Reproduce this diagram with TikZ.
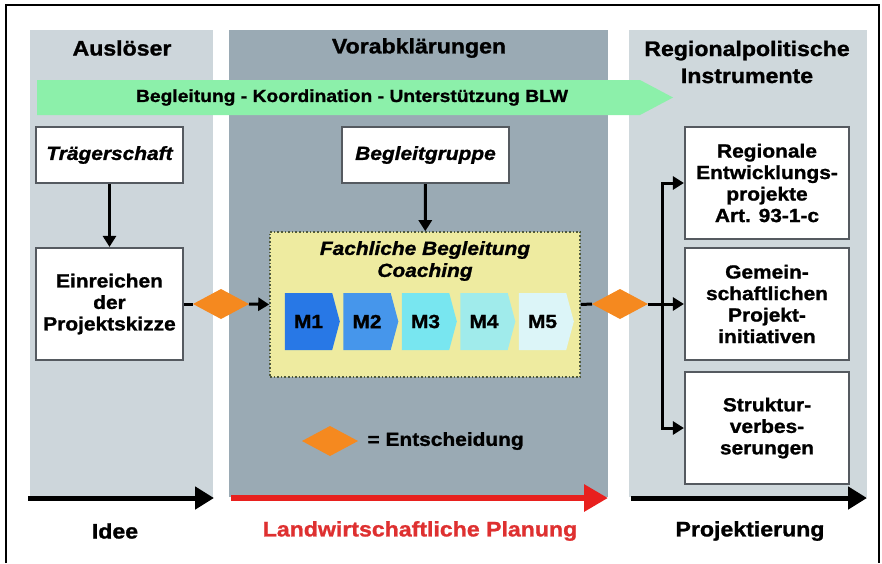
\documentclass[tikz,border=0pt]{standalone}
\usepackage{fontspec}
\setmainfont{Liberation Sans}[FakeStretch=1.1, BoldFeatures={FakeBold=1.2}, BoldItalicFeatures={FakeBold=1.2}]
\usetikzlibrary{arrows.meta,shapes.geometric,shapes.symbols}
\definecolor{panelL}{RGB}{205,214,219}
\definecolor{panelM}{RGB}{154,170,180}
\definecolor{panelR}{RGB}{207,216,220}
\definecolor{greenarr}{RGB}{140,240,170}
\definecolor{boxline}{RGB}{85,90,96}
\definecolor{yellowbox}{RGB}{238,235,160}
\definecolor{yellowline}{RGB}{80,90,60}
\definecolor{decis}{RGB}{245,137,31}
\definecolor{redarr}{RGB}{232,32,30}
\definecolor{redtext}{RGB}{222,48,48}
\definecolor{mA}{RGB}{40,120,230}
\definecolor{mB}{RGB}{70,150,235}
\definecolor{mC}{RGB}{120,230,240}
\definecolor{mD}{RGB}{160,235,235}
\definecolor{mE}{RGB}{220,245,248}
\begin{document}
\begin{tikzpicture}[x=1pt,y=-1pt,
  bodyfont/.style={font=\fontsize{19}{21.5}\selectfont\bfseries},
  titlefont/.style={font=\fontsize{21}{27}\selectfont\bfseries},
  whitebox/.style={draw=boxline, line width=2.2pt, fill=white, inner sep=0pt, align=center, bodyfont},
  decision/.style={diamond, fill=decis, draw=none, inner sep=0pt, outer sep=0pt, minimum width=56pt, minimum height=30pt},
  conn/.style={draw=black, line width=3pt},
  connarrow/.style={conn, -{Triangle[length=11pt,width=13pt]}},
  mstep/.style={signal, signal to=east, signal pointer angle=150, draw=none, inner sep=0pt, minimum width=55pt, minimum height=57pt, bodyfont},
  timeline/.style={line width=5pt, -{Triangle[length=19pt,width=22pt]}},
]
\useasboundingbox (0,0) rectangle (882,563);
% outer frame
\draw[line width=2pt] (6,563) -- (6,5) -- (879,5) -- (879,563);
% panels
\fill[panelL] (30,30) rectangle (213,497);
\fill[panelM] (229,30) rectangle (608,497);
\fill[panelR] (629,30) rectangle (867,497);
% panel titles
\node[titlefont] (tL) at (122,48) {Auslöser};
\node[titlefont] (tM) at (419,48) {Vorabklärungen};
\node[titlefont, align=center] (tR) at (747,62) {Regionalpolitische\\Instrumente};
% green arrow
\fill[greenarr] (37,80) -- (640,80) -- (673,97.5) -- (640,115) -- (37,115) -- cycle;
\node[font=\fontsize{17.5}{20}\selectfont\bfseries] (gtext) at (352,97.5) {Begleitung - Koordination - Unterstützung BLW};
% boxes
\node[whitebox, minimum width=147pt, minimum height=56pt, font=\fontsize{19}{21.5}\selectfont\bfseries\itshape] (traeger) at (109.5,155) {Trägerschaft};
\node[whitebox, minimum width=147pt, minimum height=112pt] (einreichen) at (109.5,304) {Einreichen\\der\\Projektskizze};
\node[whitebox, minimum width=167pt, minimum height=56pt, font=\fontsize{19}{21.5}\selectfont\bfseries\itshape] (begleit) at (425.5,155) {Begleitgruppe};
\node[draw=yellowline, line width=1.6pt, dotted, fill=yellowbox, minimum width=310pt, minimum height=145pt, inner sep=0pt] (coach) at (425,304.5) {};
\node[font=\fontsize{19}{22}\selectfont\bfseries\itshape, align=center] (coachtxt) at (425,261) {Fachliche Begleitung\\Coaching};
% M steps
\node[mstep, fill=mA] (m1) at (308.5,321.5) {M1};
\node[mstep, fill=mB] (m2) at (367,321.5) {M2};
\node[mstep, fill=mC] (m3) at (425.5,321.5) {M3};
\node[mstep, fill=mD] (m4) at (484,321.5) {M4};
\node[mstep, fill=mE] (m5) at (542.5,321.5) {M5};
% right boxes
\node[whitebox, minimum width=164pt, minimum height=112pt] (r1) at (767,183) {Regionale\\Entwicklungs-\\projekte\\Art. 93-1-c};
\node[whitebox, minimum width=164pt, minimum height=112pt] (r2) at (767,304) {Gemein-\\schaftlichen\\Projekt-\\initiativen};
\node[whitebox, minimum width=164pt, minimum height=112pt] (r3) at (767,428) {Struktur-\\verbes-\\serungen};
% decisions
\node[decision] (d1) at (221,304) {};
\node[decision] (d2) at (620,304) {};
\node[decision] (dleg) at (330,441) {};
\node[bodyfont, anchor=west] (legtxt) at (364,441) {= Entscheidung};
% connectors
\draw[connarrow] (traeger) -- (einreichen);
\draw[connarrow] (begleit) -- (coach);
\draw[conn] (einreichen.east) -- (d1.west);
\draw[connarrow] (d1.east) -- (coach.west);
\draw[conn] (coach.east) -- (d2.west);
\coordinate (br) at (662,304);
\draw[conn] (d2.east) -- (br);
\draw[connarrow] (br) -- (r2.west);
\draw[connarrow] (br) |- (r1.west);
\draw[connarrow] (br) |- (r3.west);
% timelines
\coordinate (a1s) at (28,498); \coordinate (a1e) at (214,498);
\coordinate (a2s) at (231,498); \coordinate (a2e) at (608,498);
\coordinate (a3s) at (631,498); \coordinate (a3e) at (867,498);
\draw[timeline] (a1s) -- (a1e);
\draw[timeline, redarr, line width=6pt, -{Triangle[length=24pt,width=26pt]}] (a2s) -- (a2e);
\draw[timeline] (a3s) -- (a3e);
% bottom labels
\node[titlefont] (lIdee) at (115,531) {Idee};
\node[titlefont, text=redtext] (lPlan) at (420,531) {Landwirtschaftliche Planung};
\node[titlefont] (lProj) at (750,531) {Projektierung};
\end{tikzpicture}
\end{document}
